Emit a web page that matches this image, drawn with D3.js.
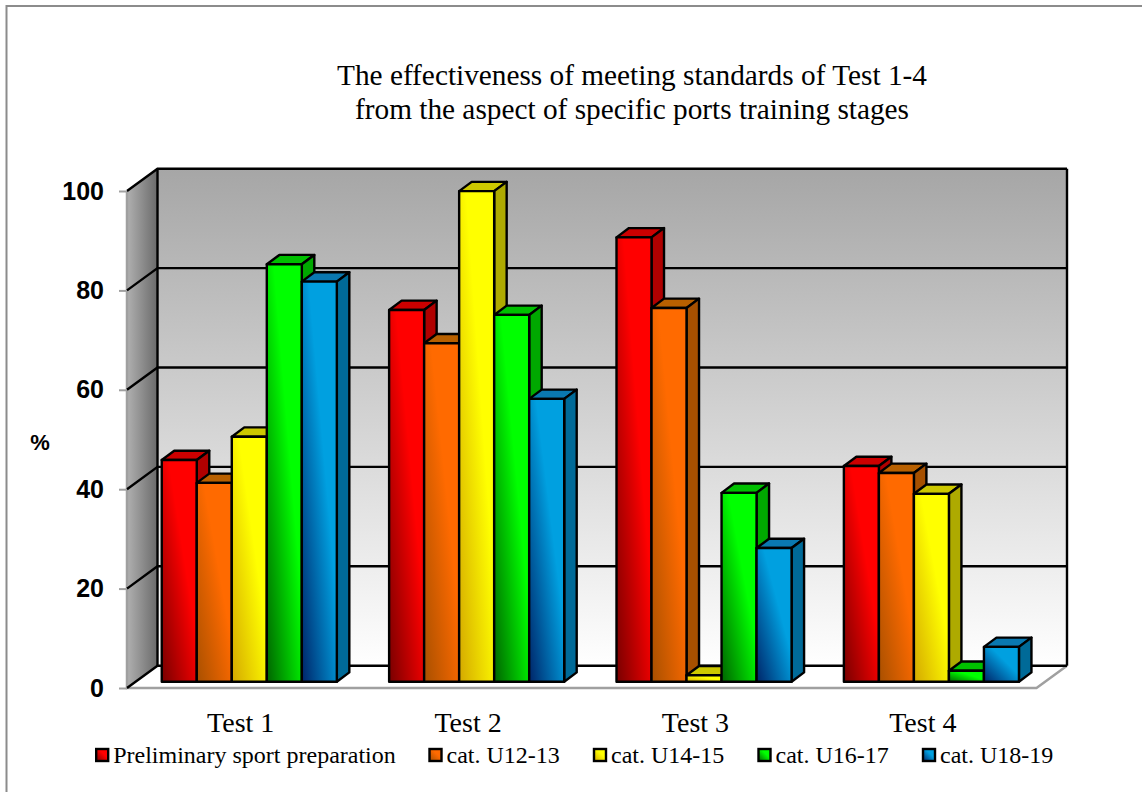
<!DOCTYPE html>
<html>
<head>
<meta charset="utf-8">
<script src="https://cdn.jsdelivr.net/npm/d3@7"></script>
<style>
  html, body { margin: 0; padding: 0; background: #fff; }
  svg { display: block; }
  .serif { font-family: "Liberation Serif", serif; fill: #000; }
  .sans { font-family: "Liberation Sans", sans-serif; font-weight: bold; fill: #000; }
</style>
</head>
<body>
<svg id="chart" width="1142" height="792"></svg>
<script>
const tests = ['Test 1', 'Test 2', 'Test 3', 'Test 4'];
const categories = ['Preliminary sport preparation', 'cat. U12-13', 'cat. U14-15', 'cat. U16-17', 'cat. U18-19'];

const preliminary = [44.6, 74.8, 89.4, 43.4];
const u1213 = [40.0, 68.1, 75.2, 42.0];
const u1415 = [49.3, 98.7, 1.3, 37.8];
const u1617 = [84.0, 73.8, 38.0, 2.2];
const u1819 = [80.5, 56.9, 26.9, 7.0];
const seriesValues = [preliminary, u1213, u1415, u1617, u1819];

const yTicks = [0, 20, 40, 60, 80, 100];

const frontColors = ['#ff0000', '#ff6a00', '#ffff00', '#00ff00', '#00a0e0'];
const darkColors = ['#780000', '#a85000', '#d4a800', '#006400', '#002468'];
const sideColors = ['#b00000', '#a65000', '#aeaa00', '#00a800', '#006a98'];
const topColors = ['#cc0000', '#b86000', '#cdc800', '#00c000', '#0a78b0'];

const svg = d3.select('#chart');
const defs = svg.append('defs');

// depth of the plot box and of the bars inside it
const wallDx = 30.5, wallDy = -22.3;
const barOffsetX = 8.6, barOffsetY = -6.3;
const barDx = 12.5, barDy = -9.3;

const x0 = d3.scaleBand().domain(tests).range([127, 1036.5]).paddingInner(0.23).paddingOuter(0.115);
const x1 = d3.scaleBand().domain(d3.range(categories.length)).range([0, x0.bandwidth()]);
const y = d3.scaleLinear().domain([0, 100]).range([688, 191]);

/** Build the wall and bar gradients */
function addGradients() {
    let wall = defs.append('linearGradient').attr('id', 'wall-back')
        .attr('x1', 0).attr('y1', 0).attr('x2', 0).attr('y2', 1);
    wall.append('stop').attr('offset', 0).attr('stop-color', '#a6a6a6');
    wall.append('stop').attr('offset', 1).attr('stop-color', '#ffffff');

    let side = defs.append('linearGradient').attr('id', 'wall-side')
        .attr('x1', 0).attr('y1', 0).attr('x2', 1).attr('y2', 0);
    side.append('stop').attr('offset', 0).attr('stop-color', '#b0b0b0');
    side.append('stop').attr('offset', 1).attr('stop-color', '#6a6a6a');

    categories.forEach((c, i) => {
        let g = defs.append('linearGradient').attr('id', 'bar-' + i)
            .attr('x1', 0).attr('y1', 1).attr('x2', 1).attr('y2', 0);
        g.append('stop').attr('offset', 0).attr('stop-color', darkColors[i]);
        g.append('stop').attr('offset', 0.6).attr('stop-color', frontColors[i]);
        g.append('stop').attr('offset', 1).attr('stop-color', frontColors[i]);
    });
}

/** Draw back wall, side wall, floor and gridlines */
function drawWalls() {
    let left = 127, right = 1036.5;
    let poly = pts => pts.map(p => p.join(',')).join(' ');

    svg.append('rect')
        .attr('x', left + wallDx).attr('y', y(100) + wallDy)
        .attr('width', right - left).attr('height', y(0) - y(100))
        .attr('fill', 'url(#wall-back)');

    svg.append('polygon')
        .attr('points', poly([[left, y(0)], [left + wallDx, y(0) + wallDy], [right + wallDx, y(0) + wallDy], [right, y(0)]]))
        .attr('fill', '#fff');

    svg.append('polygon')
        .attr('points', poly([[left, y(100)], [left + wallDx, y(100) + wallDy], [left + wallDx, y(0) + wallDy], [left, y(0)]]))
        .attr('fill', 'url(#wall-side)');

    // grey front edges of the floor and the wall
    svg.append('polyline')
        .attr('points', poly([[left, y(100)], [left, y(0)], [right, y(0)], [right + wallDx, y(0) + wallDy]]))
        .attr('fill', 'none').attr('stroke', '#a0a0a0').attr('stroke-width', 2.5);

    // black gridlines run along the side wall and across the back wall
    svg.append('g').selectAll('polyline')
        .data(yTicks)
        .enter()
        .append('polyline')
        .attr('points', d => poly([[left, y(d)], [left + wallDx, y(d) + wallDy], [right + wallDx, y(d) + wallDy]]))
        .attr('fill', 'none').attr('stroke', '#000').attr('stroke-width', 2.4);

    svg.append('polyline')
        .attr('points', poly([[left + wallDx, y(0) + wallDy], [left + wallDx, y(100) + wallDy]]))
        .attr('fill', 'none').attr('stroke', '#000').attr('stroke-width', 2.4);
    svg.append('polyline')
        .attr('points', poly([[right + wallDx, y(0) + wallDy], [right + wallDx, y(100) + wallDy]]))
        .attr('fill', 'none').attr('stroke', '#000').attr('stroke-width', 2.4);
}

/** Draw one 3d bar: top and side first, the front over them */
function drawBar(g, test, i, value) {
    let bx = x0(test) + x1(i) + barOffsetX,
        w = x1.bandwidth(),
        base = y(0) + barOffsetY,
        top = y(value) + barOffsetY;

    g.append('polygon')
        .attr('points', [[bx, top], [bx + barDx, top + barDy], [bx + w + barDx, top + barDy], [bx + w, top]].join(' '))
        .attr('fill', topColors[i]);
    g.append('polygon')
        .attr('points', [[bx + w, top], [bx + w + barDx, top + barDy], [bx + w + barDx, base + barDy], [bx + w, base]].join(' '))
        .attr('fill', sideColors[i]);
    g.append('rect')
        .attr('x', bx).attr('y', top)
        .attr('width', w).attr('height', base - top)
        .attr('fill', 'url(#bar-' + i + ')');
    g.selectAll('*')
        .attr('stroke', '#000').attr('stroke-width', 2.4).attr('stroke-linejoin', 'round');
}

function drawBars() {
    tests.forEach((test, t) => {
        seriesValues.forEach((values, i) => {
            drawBar(svg.append('g').attr('class', 'bar'), test, i, values[t]);
        });
    });
}

function drawAxes() {
    let yAxis = svg.append('g')
        .attr('transform', 'translate(127,0)')
        .call(d3.axisLeft(y).tickValues(yTicks).tickSize(8).tickPadding(15));
    yAxis.select('.domain').remove();
    yAxis.selectAll('.tick line').attr('stroke', '#a0a0a0').attr('stroke-width', 2);
    yAxis.selectAll('.tick text')
        .attr('class', 'sans').attr('font-size', 25).attr('font-family', null);

    let xAxis = svg.append('g')
        .attr('transform', 'translate(0,707)')
        .call(d3.axisBottom(x0).tickSize(0).tickPadding(5));
    xAxis.select('.domain').remove();
    xAxis.selectAll('.tick text')
        .attr('class', 'serif').attr('font-size', 28).attr('font-family', null);

    svg.append('text').attr('class', 'sans')
        .attr('x', 40).attr('y', 450).attr('text-anchor', 'middle')
        .attr('font-size', 22).text('%');
}

function drawTitle() {
    svg.append('text').attr('class', 'serif')
        .attr('x', 632).attr('y', 85).attr('text-anchor', 'middle').attr('font-size', 29.3)
        .text('The effectiveness of meeting standards of Test 1-4');
    svg.append('text').attr('class', 'serif')
        .attr('x', 632).attr('y', 119).attr('text-anchor', 'middle').attr('font-size', 29.3)
        .text('from the aspect of specific ports training stages');
}

function drawLegend() {
    let swatchX = [96.2, 429.5, 594, 758.5, 923];
    let g = svg.append('g').selectAll('g')
        .data(categories)
        .enter()
        .append('g');
    g.append('rect')
        .attr('x', (d, i) => swatchX[i]).attr('y', 749)
        .attr('width', 12).attr('height', 12)
        .attr('fill', (d, i) => 'url(#bar-' + i + ')')
        .attr('stroke', '#000').attr('stroke-width', 2.4);
    g.append('text').attr('class', 'serif')
        .attr('x', (d, i) => swatchX[i] + 17).attr('y', 763)
        .attr('font-size', 24)
        .text(d => d);
}

// outer frame, open on the right and the bottom
svg.append('path')
    .attr('d', 'M6.5,792V6H1142')
    .attr('fill', 'none').attr('stroke', '#8c8c8c').attr('stroke-width', 2);

addGradients();
drawWalls();
drawBars();
drawAxes();
drawTitle();
drawLegend();
</script>
</body>
</html>
